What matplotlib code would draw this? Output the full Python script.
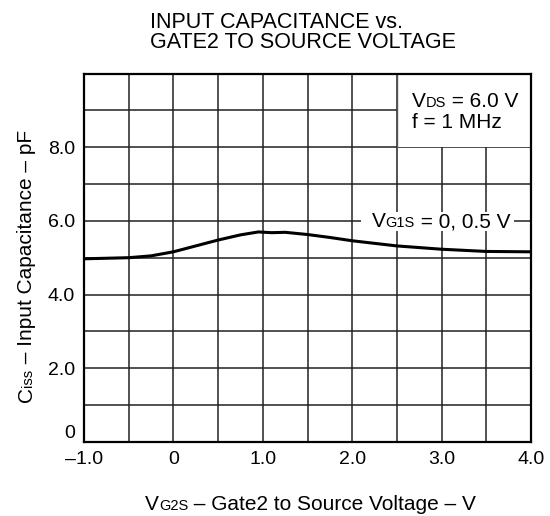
import numpy as np
import matplotlib
matplotlib.use("Agg")
import matplotlib.pyplot as plt
from matplotlib.patches import Rectangle

plt.rcParams['font.family'] = ['Liberation Sans', 'DejaVu Sans']

# data (VG1S = 0, 0.5 V)
vg2s = [-1.0, -0.5, -0.25, 0.0, 0.25, 0.5, 0.75, 0.95, 1.1, 1.25, 1.5, 1.75, 2.0, 2.5, 3.0, 3.5, 4.0]
ciss = [4.97, 5.00, 5.05, 5.16, 5.32, 5.48, 5.62, 5.70, 5.68, 5.69, 5.63, 5.55, 5.46, 5.32, 5.23, 5.17, 5.16]

x_ticks = [-1.0, 0.0, 1.0, 2.0, 3.0, 4.0]
x_ticklabels = ['\u20131.0', '0', '1.0', '2.0', '3.0', '4.0']
y_ticks = [0, 2, 4, 6, 8]
y_ticklabels = ['0', '2.0', '4.0', '6.0', '8.0']

W, H = 550, 516
TICK = 14
BIG = 15
SMALL = 10.5


def px(x, y):
    """pixel coords (from top-left) -> figure fraction"""
    return x / W, 1 - y / H


def rich_text(fig, x, y, parts, rotation=0, zorder=3):
    """draw text pieces one after another, starting at pixel (x, y) on the baseline.
    Returns the pixel x where the text ends (horizontal only)."""
    renderer = fig.canvas.get_renderer()
    fx, fy = px(x, y)
    end = x
    for s, size in parts:
        t = fig.text(fx, fy, s, fontsize=size, rotation=rotation,
                     rotation_mode='anchor', ha='left', va='baseline', zorder=zorder)
        ext = t.get_window_extent(renderer)
        if rotation == 90:
            fy = fig.transFigure.inverted().transform((0, ext.y1))[1]
        else:
            fx = fig.transFigure.inverted().transform((ext.x1, 0))[0]
            end = ext.x1
    return end


fig = plt.figure(figsize=(W / 100, H / 100), dpi=100)
x0, y1 = px(84, 73.7)
x1, y0 = px(531, 441.7)
ax = fig.add_axes([x0, y0, x1 - x0, y1 - y0])

ax.set_xlim(-1.0, 4.0)
ax.set_ylim(0, 10)
ax.set_xticks(x_ticks)
ax.set_xticklabels(x_ticklabels, fontsize=TICK)
ax.set_yticks(y_ticks)
ax.set_yticklabels(y_ticklabels, fontsize=TICK)
ax.get_yticklabels()[0].set_va('bottom')
ax.set_xticks(np.arange(-1.0, 4.01, 0.5), minor=True)
ax.set_yticks(np.arange(0, 10.01, 1.0), minor=True)
ax.tick_params(which='both', length=0, pad=6.5)
ax.grid(which='both', color='#222222', linewidth=1.1)
ax.set_axisbelow(True)
for sp in ax.spines.values():
    sp.set_linewidth(1.6)
    sp.set_color('black')

# white box behind the test conditions
ax.add_patch(Rectangle((2.5, 8.0), 1.5, 2.0, facecolor='white', edgecolor='none',
                       zorder=1, clip_on=True))
ax.plot([2.5, 2.5], [8.0, 10.0], color='#555555', linewidth=1.0, zorder=1.2)

ax.plot(vg2s, ciss, color='black', linewidth=2.2, zorder=2)

# title
fig.text(150 / W, 1 - 12 / H, 'INPUT CAPACITANCE vs.\nGATE2 TO SOURCE VOLTAGE',
         fontsize=15.5, ha='left', va='top', linespacing=0.95)

fig.canvas.draw()

# condition labels
rich_text(fig, 411.7, 107, [('V', BIG), ('DS', SMALL), (' = 6.0 V', BIG)])
rich_text(fig, 411.7, 128, [('f = 1 MHz', BIG)])
lbl_x, lbl_y = 371.7, 227
lbl_end = rich_text(fig, lbl_x, lbl_y, [('V', BIG), ('G1S', SMALL), (' = 0, 0.5 V', BIG)])
bx0, by1 = px(lbl_x - 11, lbl_y - 15)
bx1, by0 = px(lbl_end + 4, lbl_y + 4)
fig.add_artist(Rectangle((bx0, by0), bx1 - bx0, by1 - by0, transform=fig.transFigure,
                         facecolor='white', edgecolor='none', zorder=2.5))

# axis labels
rich_text(fig, 145, 510, [('V', BIG), ('G2S', SMALL), (' \u2013 Gate2 to Source Voltage \u2013 V', BIG)])
rich_text(fig, 32, 402, [('C', BIG), ('iss', SMALL), (' \u2013 Input Capacitance \u2013 pF', BIG)],
          rotation=90)

fig.savefig('out.png', dpi=100)
